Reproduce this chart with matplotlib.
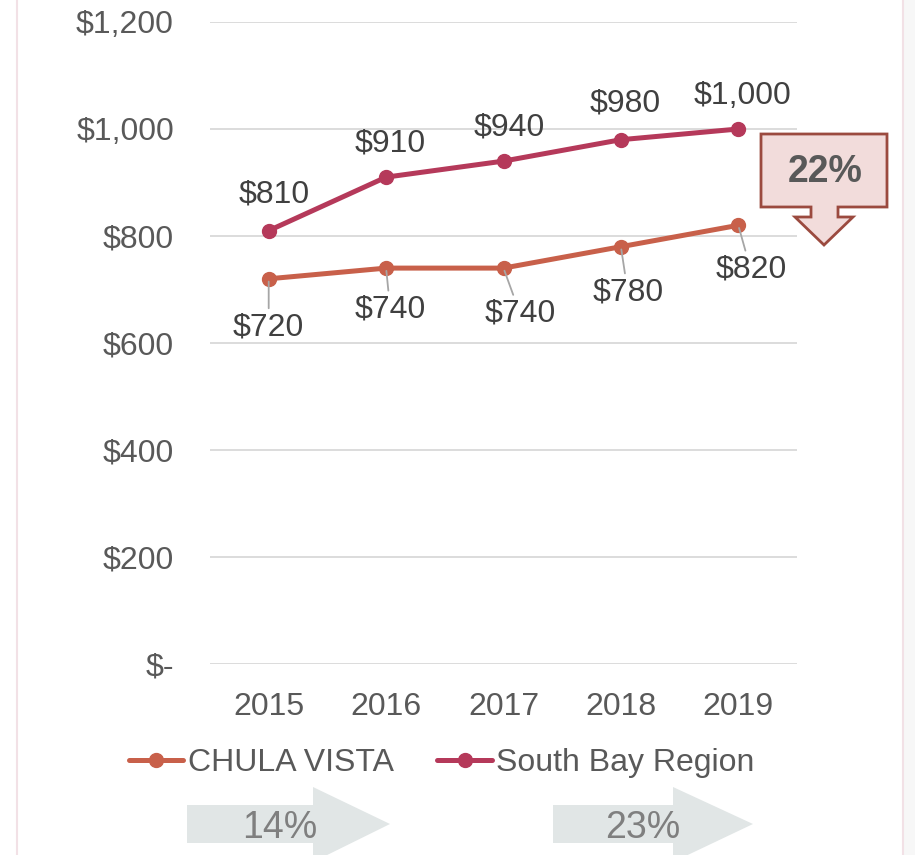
import matplotlib.pyplot as plt
from matplotlib.patches import Polygon, Rectangle
from matplotlib.lines import Line2D

plt.rcParams['font.family'] = ['Liberation Sans', 'DejaVu Sans']

years = ['2015', '2016', '2017', '2018', '2019']
chula_vista = [720, 740, 740, 780, 820]
south_bay = [810, 910, 940, 980, 1000]
growth_cv = '14%'
growth_sb = '23%'
gap_label = '22%'

cv_color = '#C8604A'
sb_color = '#B5395A'
text_color = '#595959'
label_color = '#404040'

W, H = 915, 855
fig = plt.figure(figsize=(W / 100, H / 100), dpi=100)

def fx(px):
    return px / W

def fy(py):
    return 1 - py / H

# background frame
fig.patches.append(Rectangle((fx(903), 0), fx(12), 1, transform=fig.transFigure,
                             facecolor='#F7F7F7', edgecolor='none', zorder=0))
for xp in (17, 903):
    fig.add_artist(Line2D([fx(xp), fx(xp)], [0, 1], color='#F2E1E6', lw=1.5))

ax = fig.add_axes([fx(210), fy(664), fx(797) - fx(210), fy(22) - fy(664)])
x = list(range(len(years)))
ax.plot(x, chula_vista, color=cv_color, lw=3.6, marker='o', ms=10, label='CHULA VISTA',
        solid_capstyle='round', zorder=3)
ax.plot(x, south_bay, color=sb_color, lw=3.6, marker='o', ms=10, label='South Bay Region',
        solid_capstyle='round', zorder=3)

ax.set_xlim(-0.5, 4.5)
ax.set_ylim(0, 1200)
ax.set_yticks(range(0, 1201, 200))
ax.set_yticklabels(['$-'] + [f'${v:,}' for v in range(200, 1201, 200)])
ax.set_xticks(x)
ax.set_xticklabels(years)
ax.tick_params(length=0, labelsize=23, labelcolor=text_color)
ax.tick_params(axis='x', pad=20)
ax.tick_params(axis='y', pad=26)
ax.grid(axis='y', color='#D9D9D9', lw=1.3)
ax.set_axisbelow(True)
for s in ax.spines.values():
    s.set_visible(False)

# data labels (offsets in points)
sb_off = [(4, 26), (3, 24), (4, 24), (3, 26), (3, 24)]
for i, v in enumerate(south_bay):
    ax.annotate(f'${v:,}', (i, v), xytext=sb_off[i], textcoords='offset points',
                ha='center', va='center', fontsize=23, color=label_color)

cv_off = [(0, -35), (3, -30), (12, -33), (5, -33), (9, -32)]
for i, v in enumerate(chula_vista):
    ax.annotate(f'${v:,}', (i, v), xytext=cv_off[i], textcoords='offset points',
                ha='center', va='center', fontsize=23, color=label_color,
                arrowprops=dict(arrowstyle='-', color='#A6A6A6', lw=1.3,
                                shrinkA=1, shrinkB=2))

fig.legend(handles=ax.get_lines(), loc='center', bbox_to_anchor=(fx(442), fy(763)),
           ncol=2, frameon=False, fontsize=23, handlelength=1.7, handletextpad=0.15,
           columnspacing=1.35, labelcolor=text_color)

# callout arrow with gap
callout = [(761, 134), (887, 134), (887, 207), (838, 207), (838, 217), (853, 217),
           (824, 245), (795, 217), (811, 217), (811, 207), (761, 207)]
fig.patches.append(Polygon([(fx(a), fy(b)) for a, b in callout], closed=True,
                           transform=fig.transFigure, facecolor='#F2DCDB',
                           edgecolor='#9B4A3F', lw=2, zorder=5))
fig.text(fx(825), fy(172), gap_label, ha='center', va='center', fontsize=27,
         fontweight='bold', color=text_color, zorder=6)

# growth arrows at the bottom
def growth_arrow(x0, x1, x2, label, tx):
    pts = [(x0, 805), (x1, 805), (x1, 787), (x2, 824), (x1, 862), (x1, 843), (x0, 843)]
    fig.patches.append(Polygon([(fx(a), fy(b)) for a, b in pts], closed=True,
                               transform=fig.transFigure, facecolor='#E1E6E6',
                               edgecolor='none', zorder=1))
    fig.text(fx(tx), fy(828), label, ha='center', va='center',
             fontsize=27, color='#7F7F7F', zorder=2)

growth_arrow(187, 313, 390, growth_cv, 280)
growth_arrow(553, 673, 753, growth_sb, 643)

fig.savefig('out.png', dpi=100)
